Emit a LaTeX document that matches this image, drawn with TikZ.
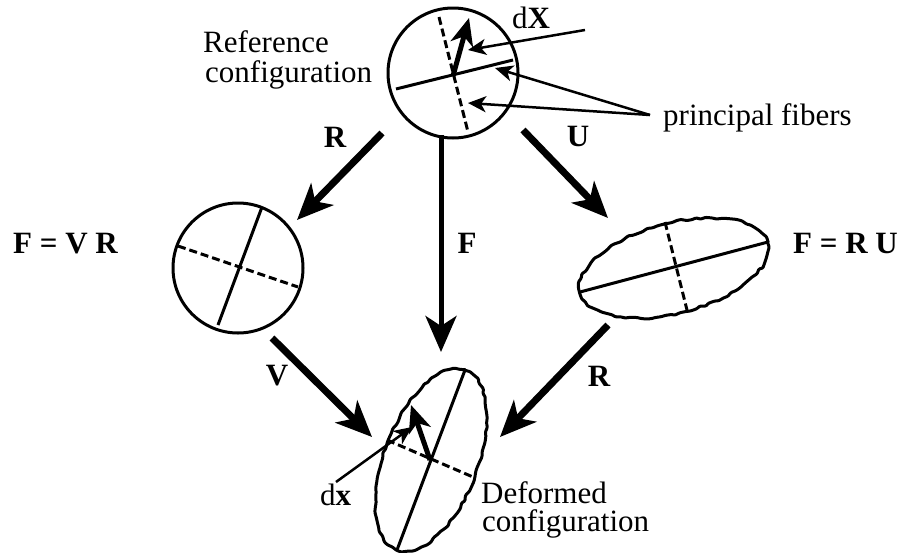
\documentclass[tikz,border=0pt]{standalone}
\usepackage{fontspec}
\setmainfont{Liberation Serif}
\usetikzlibrary{arrows.meta,decorations.pathmorphing}
\tikzset{
  big/.style={line width=7pt,-{Stealth[length=36pt,width=31pt,inset=10pt]}},
  vec/.style={line width=5pt,-{Stealth[length=27pt,width=23pt,inset=8pt]}},
  pointer/.style={line width=2.5pt,-{Stealth[length=18pt,width=16pt,inset=5pt]}},
  fiber/.style={line width=3pt},
  fiberd/.style={line width=3pt,dash pattern=on 8pt off 4pt},
  outline/.style={line width=3pt},
  wobbly/.style={line width=3pt,decorate,decoration={random steps,segment length=5pt,amplitude=1.2pt},rounded corners=1pt},
  lbl/.style={inner sep=0pt,font=\fontsize{31}{36}\selectfont},
  blbl/.style={inner sep=0pt,font=\fontsize{31}{36}\selectfont\bfseries},
}
\begin{document}
\begin{tikzpicture}[x=1pt,y=-1pt,line join=round]
\useasboundingbox (0,0) rectangle (902,552);
% configurations
\coordinate (refc) at (453,73);
\coordinate (vrc) at (238,268);
\coordinate (ruc) at (674,268);
\coordinate (defc) at (431,460);
\draw[outline] (refc) circle[radius=65];
\draw[fiber] (396,89) -- (513,60);
\draw[fiberd] (439,17) -- (468,132);
\draw[outline] (vrc) circle[radius=65];
\draw[fiber] (262,207) -- (218,325);
\draw[fiberd] (178,246) -- (298,287);
\draw[wobbly,rotate around={15:(ruc)}] (ruc) ellipse[x radius=97,y radius=45];
\draw[fiber] (580,292) -- (768,242);
\draw[fiberd] (665,222) -- (687,310);
\draw[wobbly,rotate around={69:(defc)}] (defc) ellipse[x radius=96,y radius=47];
\draw[fiber] (465,370) -- (397,550);
\draw[fiberd] (387,440) -- (473,477);
% line elements
\coordinate (refo) at (453,76);
\coordinate (dXend) at (469,18);
\coordinate (defo) at (430,460);
\coordinate (dxend) at (411,405);
\draw[vec] (refo) -- (dXend);
\draw[vec] (defo) -- (dxend);
% labels
\node[lbl,anchor=base west] (reflbl) at (203,52) {Reference};
\node[lbl,anchor=base west] (reflbl2) at (205,82) {configuration};
\node[lbl,anchor=base west] (deflbl) at (481,503) {Deformed};
\node[lbl,anchor=base west] (deflbl2) at (482,531) {configuration};
\node[lbl,anchor=base west] (pflbl) at (663,125) {principal fibers};
\node[lbl,anchor=base west] (dXlbl) at (512,28) {d\textbf{X}};
\node[lbl,anchor=base west] (dxlbl) at (320,505) {d\textbf{x}};
\node[blbl,anchor=base west] (fvr) at (13,253) {F = V R};
\node[blbl,anchor=base west] (fru) at (793,253) {F = R U};
\node[blbl] (rlbl) at (335,137) {R};
\node[blbl] (ulbl) at (578,136) {U};
\node[blbl] (flbl) at (467,243) {F};
\node[blbl] (vlbl) at (277,376) {V};
\node[blbl] (r2lbl) at (599,376) {R};
% pointers
\coordinate (dXs) at (585,30);
\coordinate (dXtip) at (468,50);
\coordinate (pfs) at (650,115);
\coordinate (pftip1) at (495,68);
\coordinate (pftip2) at (468,103);
\coordinate (dxs) at (336,482);
\coordinate (dxtip) at (412,427);
\draw[pointer] (dXs) -- (dXtip);
\draw[pointer] (pfs) -- (pftip1);
\draw[pointer] (pfs) -- (pftip2);
\draw[pointer] (dxs) -- (dxtip);
% maps
\coordinate (rs) at (382,133);
\coordinate (re) at (297,220);
\coordinate (fs) at (441,135);
\coordinate (fe) at (441,352);
\coordinate (us) at (523,130);
\coordinate (ue) at (608,218);
\coordinate (vs) at (272,338);
\coordinate (ve) at (372,437);
\coordinate (r2s) at (608,325);
\coordinate (r2e) at (500,437);
\draw[big] (rs) -- (re);
\draw[big,line width=5pt] (fs) -- (fe);
\draw[big] (us) -- (ue);
\draw[big] (vs) -- (ve);
\draw[big] (r2s) -- (r2e);
\end{tikzpicture}
\end{document}
